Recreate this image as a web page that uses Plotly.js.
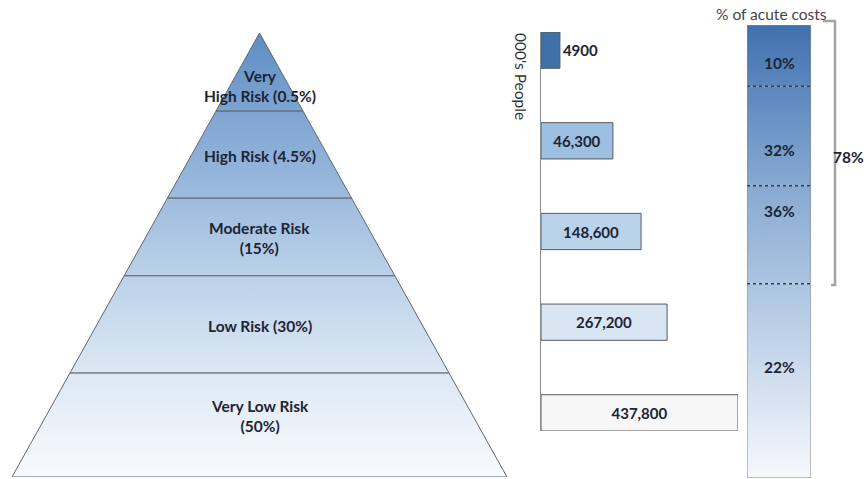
<!DOCTYPE html>
<html>
<head>
<meta charset="utf-8">
<script src="https://cdn.plot.ly/plotly-3.0.1.min.js"></script>
<style>
  html, body { margin: 0; padding: 0; background: #fff; }
  #chart { width: 866px; height: 479px; }
</style>
</head>
<body>
<div id="chart"></div>
<script>
// ---------------- data ----------------
const riskNames = ['Very<br>High Risk', 'High Risk', 'Moderate Risk<br>', 'Low Risk', 'Very Low Risk<br>'];
const riskShares = [0.5, 4.5, 15, 30, 50];                 // % of population
const pyramidBandTops = [1, 0.824, 0.628, 0.453, 0.234];   // band tops as drawn (apex = 1, base = 0)
const peopleThousands = [4900, 46300, 148600, 267200, 437800];
const peopleLabels = ['4900', '46,300', '148,600', '267,200', '437,800'];
const barDrawnLength = [9.6, 36.5, 50.8, 64, 100];         // bar length as drawn (longest = 100)
const costShares = [10, 32, 36, 22];                       // % of acute costs
const costDrawnHeight = [13.5, 22, 21.6, 42.9];            // segment height as drawn (column = 100)
const bracketShare = 78;

// ---------------- helpers ----------------
const W = 866, H = 479;
const px = x => x / W;
const py = y => 1 - y / H;
const FONT = 'Lato, "Open Sans", "DejaVu Sans", sans-serif';
const textDark = '#1d2433';
const LBL = 15.5;

const traces = [];
const annotations = [];
const shapes = [];

// ---------------- pyramid ----------------
const pyrScale = [[0, '#f8fbfe'], [0.23, '#dde8f4'], [0.45, '#bcd2e9'], [0.63, '#9dbbde'], [0.82, '#7ea5d1'], [1, '#5d8dc4']];
const labelHeights = [0.881, 0.723, 0.538, 0.340, 0.137];
for (let i = 0; i < riskNames.length; i++) {
  const top = pyramidBandTops[i];
  const bot = i + 1 < pyramidBandTops.length ? pyramidBandTops[i + 1] : 0;
  const hwTop = 1 - top, hwBot = 1 - bot;
  traces.push({
    type: 'scatter', mode: 'lines', xaxis: 'x', yaxis: 'y',
    x: [-hwBot, hwBot, hwTop, -hwTop, -hwBot],
    y: [bot, bot, top, top, bot],
    fill: 'toself',
    fillgradient: { type: 'vertical', start: 0, stop: 1, colorscale: pyrScale },
    line: { color: '#5f6670', width: 1 },
    hoverinfo: 'skip', showlegend: false
  });
  const nm = riskNames[i];
  const txt = nm.endsWith('<br>') ? nm + '(' + riskShares[i] + '%)' : nm + ' (' + riskShares[i] + '%)';
  annotations.push({
    xref: 'x', yref: 'y', x: 0, y: labelHeights[i], text: txt, showarrow: false,
    xanchor: 'center', yanchor: 'middle',
    font: { family: FONT, size: LBL, color: textDark, weight: 'bold' }, align: 'center'
  });
}

// ---------------- people bars ----------------
const barColors = ['#3f70a8', '#9dbfe2', '#bad2ea', '#d8e6f3', '#f7f7f7'];
traces.push({
  type: 'bar', orientation: 'h', xaxis: 'x2', yaxis: 'y2',
  x: barDrawnLength,
  y: peopleLabels.map((_, i) => 'r' + i),
  width: 0.4,
  text: peopleLabels,
  textposition: peopleThousands.map(v => v < 10000 ? 'outside' : 'inside'),
  insidetextanchor: 'middle',
  textangle: 0,
  constraintext: 'none',
  cliponaxis: false,
  textfont: { family: FONT, size: 15, color: textDark, weight: 'bold' },
  marker: { color: barColors, line: { color: '#5a5a5a', width: 1 } },
  hoverinfo: 'skip', showlegend: false
});
annotations.push({
  xref: 'paper', yref: 'paper', x: px(521), y: py(76), text: "000's People",
  xanchor: 'center', yanchor: 'middle',
  textangle: 90, showarrow: false, font: { family: FONT, size: 15.5, color: '#333' }
});

// ---------------- acute cost column ----------------
const colScale = [[0, '#f6f8fc'], [0.43, '#abc4e1'], [0.64, '#88aad2'], [0.865, '#5b87be'], [1, '#4070ad']];
const labelFrac = [0.62, 0.64, 0.26, 0.43];
let cursor = 100;
const bounds = [];
for (let i = 0; i < costShares.length; i++) {
  const top = cursor, bot = cursor - costDrawnHeight[i];
  traces.push({
    type: 'scatter', mode: 'lines', xaxis: 'x3', yaxis: 'y3',
    x: [0, 1, 1, 0, 0], y: [bot, bot, top, top, bot],
    fill: 'toself',
    fillgradient: { type: 'vertical', start: 0, stop: 100, colorscale: colScale },
    line: { width: 0, color: 'rgba(0,0,0,0)' },
    hoverinfo: 'skip', showlegend: false
  });
  annotations.push({
    xref: 'x3', yref: 'y3', x: 0.5, y: top - labelFrac[i] * (top - bot),
    xanchor: 'center', yanchor: 'middle',
    text: costShares[i] + '%', showarrow: false,
    font: { family: FONT, size: LBL, color: textDark, weight: 'bold' }
  });
  if (i > 0) bounds.push(top);
  cursor = bot;
}
bounds.forEach(b => shapes.push({
  type: 'line', xref: 'x3', yref: 'y3', x0: 0, x1: 1.01, y0: b, y1: b,
  line: { color: '#3a3a3a', width: 1.5, dash: 'dot' }
}));
shapes.push({
  type: 'rect', xref: 'x3', yref: 'y3', x0: 0, x1: 1, y0: 0, y1: 100,
  line: { color: '#8a8a8a', width: 1 }, fillcolor: 'rgba(0,0,0,0)'
});
// bracket over the top three segments
shapes.push({
  type: 'path', xref: 'paper', yref: 'paper',
  path: `M${px(823)},${py(21)} L${px(835)},${py(21)} L${px(835)},${py(285)} L${px(831)},${py(285)}`,
  line: { color: '#a3a3a3', width: 2.5 }
});
annotations.push({
  xref: 'paper', yref: 'paper', x: 1, xanchor: 'right', y: py(157), yanchor: 'middle',
  text: bracketShare + '%', showarrow: false,
  font: { family: FONT, size: LBL, color: textDark, weight: 'bold' }
});
annotations.push({
  xref: 'paper', yref: 'paper', x: px(771), y: py(14), xanchor: 'center', yanchor: 'middle',
  text: '% of acute costs', showarrow: false,
  font: { family: FONT, size: 15.5, color: '#444' }
});

// ---------------- layout ----------------
const hidden = { showgrid: false, zeroline: false, showticklabels: false, ticks: '', showline: false, fixedrange: true };
const layout = {
  width: W, height: H,
  margin: { l: 0, r: 0, t: 0, b: 0 },
  paper_bgcolor: '#fff', plot_bgcolor: 'rgba(0,0,0,0)',
  showlegend: false,
  font: { family: FONT },
  xaxis:  Object.assign({}, hidden, { domain: [px(12), px(507)], range: [-1, 1], anchor: 'y' }),
  yaxis:  Object.assign({}, hidden, { domain: [py(477), py(33)], range: [0, 1], anchor: 'x' }),
  xaxis2: Object.assign({}, hidden, { domain: [px(541), px(738)], range: [0, 100], anchor: 'y2' }),
  yaxis2: Object.assign({}, hidden, { domain: [py(431), py(32)], type: 'category', range: [4.2, -0.2], anchor: 'x2',
                                      showline: true, linecolor: '#8c8c8c', linewidth: 1.5 }),
  xaxis3: Object.assign({}, hidden, { domain: [px(747), px(811)], range: [0, 1], anchor: 'y3' }),
  yaxis3: Object.assign({}, hidden, { domain: [py(478), py(25)], range: [0, 100], anchor: 'x3' }),
  annotations: annotations,
  shapes: shapes,
  bargap: 0
};
Plotly.newPlot('chart', traces, layout, { displayModeBar: false, staticPlot: true });
</script>
</body>
</html>
